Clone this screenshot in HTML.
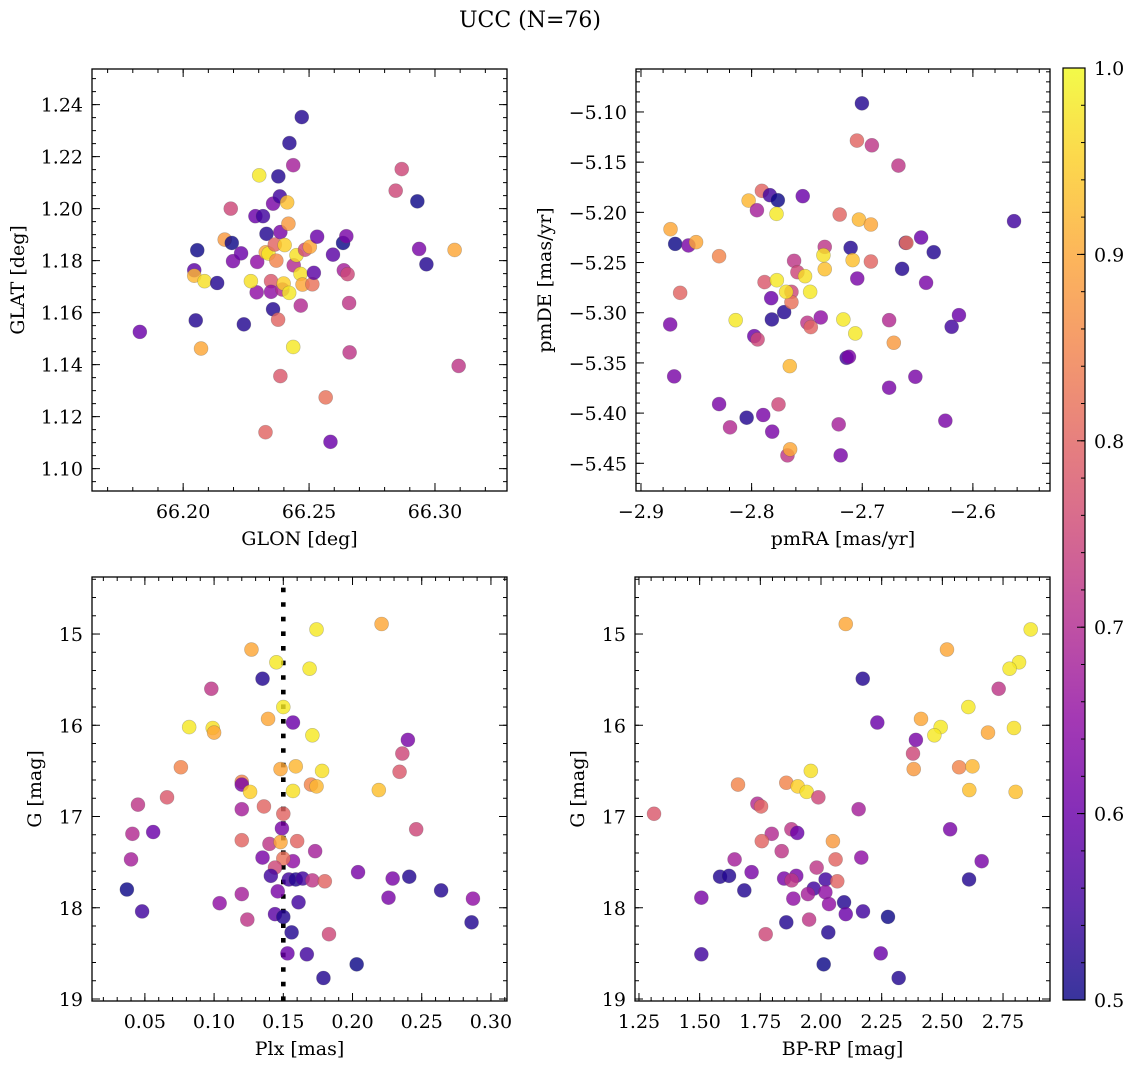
<!DOCTYPE html>
<html><head><meta charset="utf-8"><style>
body{margin:0;background:#fff;}
svg text{font-family:"DejaVu Serif","Liberation Serif",serif;fill:#000;}
</style></head><body>
<svg id="fig" width="1135" height="1068" viewBox="0 0 1135 1068" xmlns="http://www.w3.org/2000/svg">
<defs>
<linearGradient id="plasmaGrad" x1="0" y1="1" x2="0" y2="0">
<stop offset="0" stop-color="#0d0887"/><stop offset="0.1" stop-color="#41049d"/><stop offset="0.2" stop-color="#6a00a8"/><stop offset="0.3" stop-color="#8f0da4"/><stop offset="0.4" stop-color="#b12a90"/><stop offset="0.5" stop-color="#cc4778"/><stop offset="0.6" stop-color="#e16462"/><stop offset="0.7" stop-color="#f2844b"/><stop offset="0.8" stop-color="#fca636"/><stop offset="0.9" stop-color="#fcce25"/><stop offset="1" stop-color="#f0f921"/>
</linearGradient>
</defs>
<text x="530" y="27" font-size="22" text-anchor="middle">UCC (N=76)</text>
</svg>
<script>
// ---- Panel 1: GLON vs GLAT ----
const p1Glon=[66.1828,66.2056,66.2044,66.2044,66.2050,66.2085,66.2071,66.2135,66.2165,66.2193,66.2189,66.2198,66.2230,66.2241,66.2287,66.2317,66.2294,66.2292,66.2269,66.2302,66.2331,66.2328,66.2339,66.2357,66.2349,66.2349,66.2357,66.2327,66.2364,66.2370,66.2377,66.2386,66.2378,66.2384,66.2386,66.2394,66.2399,66.2403,66.2413,66.2418,66.2422,66.2421,66.2437,66.2439,66.2437,66.2450,66.2466,66.2467,66.2471,66.2474,66.2484,66.2503,66.2513,66.2519,66.2532,66.2566,66.2585,66.2595,66.2635,66.2648,66.2638,66.2653,66.2659,66.2661,66.2844,66.2868,66.2930,66.2937,66.2966,66.3078,66.3094];
const p1Glat=[1.1526,1.1840,1.1763,1.1742,1.1570,1.1721,1.1462,1.1714,1.1881,1.1868,1.2000,1.1798,1.1828,1.1555,1.1971,1.1971,1.1795,1.1678,1.1721,1.2128,1.1903,1.1832,1.1827,1.2019,1.1721,1.1680,1.1613,1.1140,1.1862,1.1800,1.1573,1.1356,1.2124,1.2047,1.1910,1.1689,1.1712,1.1860,1.2024,1.1942,1.2252,1.1676,1.2167,1.1782,1.1468,1.1821,1.1749,1.1627,1.2352,1.1708,1.1842,1.1853,1.1709,1.1753,1.1892,1.1274,1.1103,1.1823,1.1868,1.1894,1.1763,1.1748,1.1637,1.1447,1.2069,1.2152,1.2028,1.1845,1.1786,1.1841,1.1395];
const p1Prob=[0.6,0.5,0.58,0.92,0.52,0.97,0.9,0.52,0.88,0.5,0.75,0.62,0.6,0.52,0.6,0.55,0.65,0.65,0.97,0.98,0.52,0.9,0.98,0.62,0.78,0.65,0.52,0.8,0.8,0.85,0.8,0.78,0.52,0.55,0.62,0.7,0.95,0.95,0.93,0.88,0.52,0.98,0.68,0.7,0.98,0.97,0.97,0.7,0.52,0.9,0.75,0.9,0.82,0.58,0.6,0.82,0.6,0.58,0.5,0.62,0.68,0.75,0.72,0.72,0.75,0.75,0.5,0.62,0.52,0.9,0.72];
const p1XTicks=[66.20,66.25,66.30];
const p1XLabels=["66.20","66.25","66.30"];
const p1YTicks=[1.10,1.12,1.14,1.16,1.18,1.20,1.22,1.24];
const p1YLabels=["1.10","1.12","1.14","1.16","1.18","1.20","1.22","1.24"];

// ---- Panel 2: pmRA vs pmDE ----
const p2PmRA=[-2.7003,-2.7048,-2.6913,-2.6673,-2.5628,-2.8733,-2.8691,-2.8571,-2.8502,-2.8294,-2.8646,-2.8736,-2.8700,-2.8027,-2.7952,-2.7907,-2.7835,-2.7763,-2.7775,-2.7538,-2.7883,-2.7823,-2.7772,-2.7817,-2.7706,-2.7976,-2.7946,-2.8144,-2.8294,-2.8195,-2.8045,-2.7895,-2.7814,-2.7757,-2.7676,-2.7652,-2.7655,-2.7640,-2.7640,-2.7688,-2.7616,-2.7586,-2.7517,-2.7496,-2.7465,-2.7471,-2.7375,-2.7339,-2.7351,-2.7339,-2.7204,-2.7213,-2.7195,-2.7171,-2.7141,-2.7120,-2.7105,-2.7087,-2.7063,-2.7045,-2.7030,-2.6922,-2.6922,-2.6757,-2.6757,-2.6715,-2.6640,-2.6607,-2.6601,-2.6468,-2.6354,-2.6423,-2.6520,-2.6192,-2.6126,-2.6249];
const p2PmDE=[-5.0914,-5.1285,-5.1332,-5.1534,-5.2088,-5.2168,-5.2314,-5.2330,-5.2297,-5.2437,-5.2802,-5.3117,-5.3634,-5.1883,-5.1979,-5.1786,-5.1829,-5.1879,-5.2015,-5.1839,-5.2695,-5.2855,-5.2676,-5.3067,-5.2994,-5.3233,-5.3266,-5.3074,-5.3910,-5.4142,-5.4046,-5.4019,-5.4185,-5.3913,-5.4421,-5.4361,-5.3532,-5.2792,-5.2895,-5.2792,-5.2483,-5.2596,-5.2636,-5.3100,-5.3143,-5.2792,-5.3047,-5.2344,-5.2427,-5.2566,-5.2022,-5.4112,-5.4421,-5.3067,-5.3449,-5.3439,-5.2354,-5.2476,-5.3206,-5.2659,-5.2072,-5.2121,-5.2490,-5.3074,-5.3747,-5.3299,-5.2563,-5.2304,-5.2304,-5.2251,-5.2397,-5.2702,-5.3638,-5.3140,-5.3024,-5.4076];
const p2Prob=[0.52,0.8,0.72,0.72,0.55,0.9,0.5,0.62,0.9,0.85,0.8,0.62,0.62,0.92,0.68,0.8,0.55,0.5,0.98,0.6,0.78,0.6,0.98,0.52,0.52,0.6,0.75,0.98,0.62,0.7,0.52,0.62,0.62,0.75,0.72,0.9,0.92,0.75,0.82,0.97,0.72,0.75,0.97,0.72,0.8,0.98,0.65,0.72,0.97,0.93,0.8,0.68,0.62,0.98,0.55,0.62,0.52,0.93,0.98,0.62,0.92,0.9,0.8,0.7,0.62,0.88,0.52,0.55,0.82,0.6,0.52,0.62,0.62,0.55,0.6,0.62];
const p2XTicks=[-2.9,-2.8,-2.7,-2.6];
const p2XLabels=["\u22122.9","\u22122.8","\u22122.7","\u22122.6"];
const p2YTicks=[-5.45,-5.40,-5.35,-5.30,-5.25,-5.20,-5.15,-5.10];
const p2YLabels=["\u22125.45","\u22125.40","\u22125.35","\u22125.30","\u22125.25","\u22125.20","\u22125.15","\u22125.10"];

// ---- Panel 3: Plx vs G ----
const p3Plx=[0.221,0.174,0.127,0.145,0.169,0.135,0.098,0.150,0.139,0.157,0.082,0.099,0.100,0.171,0.240,0.236,0.076,0.148,0.159,0.178,0.234,0.120,0.120,0.126,0.157,0.170,0.174,0.219,0.045,0.066,0.120,0.136,0.150,0.149,0.246,0.041,0.056,0.120,0.140,0.148,0.160,0.173,0.040,0.135,0.157,0.150,0.144,0.141,0.154,0.159,0.164,0.171,0.180,0.204,0.229,0.241,0.037,0.048,0.104,0.120,0.146,0.226,0.264,0.287,0.124,0.144,0.150,0.161,0.156,0.183,0.286,0.153,0.167,0.203,0.179];
const p3G=[14.89,14.95,15.17,15.31,15.38,15.49,15.60,15.80,15.93,15.97,16.02,16.03,16.08,16.11,16.16,16.31,16.46,16.48,16.45,16.50,16.51,16.62,16.65,16.73,16.72,16.65,16.67,16.71,16.87,16.79,16.92,16.89,16.97,17.13,17.14,17.19,17.17,17.26,17.30,17.28,17.27,17.38,17.47,17.45,17.49,17.46,17.56,17.65,17.69,17.69,17.68,17.70,17.71,17.61,17.68,17.66,17.80,18.04,17.95,17.85,17.82,17.89,17.81,17.90,18.13,18.07,18.10,17.94,18.27,18.29,18.16,18.50,18.51,18.62,18.77];
const p3Prob=[0.9,0.98,0.9,0.98,0.98,0.52,0.72,0.98,0.9,0.6,0.98,0.97,0.9,0.98,0.62,0.75,0.85,0.9,0.92,0.97,0.78,0.85,0.62,0.95,0.97,0.85,0.92,0.93,0.72,0.78,0.68,0.8,0.8,0.62,0.75,0.7,0.6,0.8,0.72,0.9,0.8,0.68,0.68,0.62,0.65,0.82,0.75,0.55,0.55,0.52,0.55,0.72,0.8,0.62,0.62,0.52,0.5,0.55,0.65,0.68,0.62,0.62,0.52,0.65,0.72,0.58,0.52,0.55,0.52,0.75,0.52,0.6,0.55,0.5,0.52];
const p3XTicks=[0.05,0.10,0.15,0.20,0.25,0.30];
const p3XLabels=["0.05","0.10","0.15","0.20","0.25","0.30"];
const plxCut=[0.15];

// ---- Panel 4: BP-RP vs G ----
const p4BpRp=[1.312,2.102,2.864,2.519,2.816,2.777,2.172,2.732,2.607,2.412,2.232,2.493,2.467,2.795,2.688,2.391,2.379,2.382,2.569,2.624,1.958,1.658,1.857,1.904,1.941,2.611,2.802,1.989,1.738,1.753,2.155,2.532,1.797,1.878,1.902,1.756,2.049,1.838,2.166,2.060,2.662,1.644,1.982,1.584,1.621,1.714,1.848,1.898,1.879,2.019,2.067,2.610,1.684,1.970,1.946,2.018,1.507,1.886,2.033,2.095,2.102,2.173,2.276,1.857,1.951,1.772,2.030,1.507,2.246,2.011,2.320];
const p4G=[16.97,14.89,14.95,15.17,15.31,15.38,15.49,15.60,15.80,15.93,15.97,16.02,16.11,16.03,16.08,16.16,16.31,16.48,16.46,16.45,16.50,16.65,16.63,16.67,16.73,16.71,16.73,16.79,16.86,16.89,16.92,17.14,17.19,17.14,17.18,17.27,17.27,17.38,17.45,17.47,17.49,17.47,17.56,17.66,17.65,17.61,17.68,17.65,17.70,17.69,17.71,17.69,17.81,17.79,17.85,17.83,17.89,17.90,17.96,17.94,18.07,18.04,18.10,18.16,18.13,18.29,18.27,18.51,18.50,18.62,18.77];
const p4Prob=[0.78,0.9,0.98,0.9,0.98,0.98,0.52,0.72,0.98,0.9,0.6,0.98,0.98,0.97,0.9,0.62,0.75,0.88,0.85,0.92,0.97,0.85,0.85,0.95,0.97,0.93,0.93,0.75,0.7,0.8,0.68,0.62,0.7,0.72,0.6,0.8,0.88,0.72,0.65,0.8,0.62,0.68,0.72,0.52,0.52,0.62,0.62,0.62,0.72,0.55,0.8,0.52,0.52,0.55,0.68,0.65,0.62,0.65,0.65,0.52,0.6,0.55,0.5,0.52,0.72,0.75,0.52,0.55,0.6,0.5,0.52];
const p4XTicks=[1.25,1.50,1.75,2.00,2.25,2.50,2.75];
const p4XLabels=["1.25","1.50","1.75","2.00","2.25","2.50","2.75"];

const gYTicks=[15,16,17,18,19];
const gYLabels=["15","16","17","18","19"];
const cbTicks=[0.5,0.6,0.7,0.8,0.9,1.0];
const cbLabels=["0.5","0.6","0.7","0.8","0.9","1.0"];

const NS="http://www.w3.org/2000/svg";
const svg=document.getElementById('fig');
const FS=19;
const plasma=["#0d0887","#41049d","#6a00a8","#8f0da4","#b12a90","#cc4778","#e16462","#f2844b","#fca636","#fcce25","#f0f921"];
function hex(h){return [parseInt(h.substr(1,2),16),parseInt(h.substr(3,2),16),parseInt(h.substr(5,2),16)];}
function cmap(p){let t=Math.max(0,Math.min(1,(p-0.5)/0.5))*10;let i=Math.min(9,Math.floor(t));let f=t-i;const a=hex(plasma[i]),b=hex(plasma[i+1]);return 'rgb('+a.map((v,k)=>Math.round(v+(b[k]-v)*f)).join(',')+')';}
function mk(tag,attrs,parent){const e=document.createElementNS(NS,tag);for(const k in attrs)e.setAttribute(k,attrs[k]);(parent||svg).appendChild(e);return e;}

function panel(o){
  const g=mk('g',{});
  
  
  const sx=v=>o.x0+(v-o.xd[0])/(o.xd[1]-o.xd[0])*(o.x1-o.x0);
  const sy=o.yInv?(v=>o.y0+(v-o.yd[0])/(o.yd[1]-o.yd[0])*(o.y1-o.y0)):(v=>o.y1-(v-o.yd[0])/(o.yd[1]-o.yd[0])*(o.y1-o.y0));
  const tg=mk('g',{stroke:'#000','stroke-width':1},g);
  
  
  const eps=1e-9;
  for(let v=Math.ceil(o.xd[0]/o.xMinor)*o.xMinor;v<=o.xd[1]+eps;v+=o.xMinor){const X=sx(v);mk('line',{x1:X,x2:X,y1:o.y1,y2:o.y1-4},tg);mk('line',{x1:X,x2:X,y1:o.y0,y2:o.y0+4},tg);}
  for(let v=Math.ceil(Math.min(...o.yd)/o.yMinor)*o.yMinor;v<=Math.max(...o.yd)+eps;v+=o.yMinor){const Y=sy(v);mk('line',{x1:o.x0,x2:o.x0+4,y1:Y,y2:Y},tg);mk('line',{x1:o.x1,x2:o.x1-4,y1:Y,y2:Y},tg);}
  o.xTicks.forEach((v,i)=>{const X=sx(v);mk('line',{x1:X,x2:X,y1:o.y1,y2:o.y1-8},tg);mk('line',{x1:X,x2:X,y1:o.y0,y2:o.y0+8},tg);
    const t=mk('text',{x:X,y:o.y1+27,'font-size':FS,'text-anchor':'middle'},g);t.textContent=o.xLabels[i];
    
    });
  o.yTicks.forEach((v,i)=>{const Y=sy(v);mk('line',{x1:o.x0,x2:o.x0+8,y1:Y,y2:Y},tg);mk('line',{x1:o.x1,x2:o.x1-8,y1:Y,y2:Y},tg);
    const t=mk('text',{x:o.x0-9,y:Y+7,'font-size':FS,'text-anchor':'end'},g);t.textContent=o.yLabels[i];
    
    });
  if(o.vline){o.vline.forEach(v=>{const l=mk('line',{x1:sx(v),x2:sx(v),y1:o.y1,y2:o.y0+2,stroke:'#000','stroke-width':4.6,'stroke-dasharray':'4.6 10'},g);
    
    });}
  const pg=mk('g',{},g);
  
  
  o.xs.forEach((xv,i)=>{const c=mk('circle',{cx:sx(xv),cy:sy(o.ys[i]),r:7,fill:cmap(o.ps[i]),'fill-opacity':0.82,stroke:'rgba(80,80,80,0.35)','stroke-width':0.6},pg);
    
    });
  const fr=mk('rect',{x:o.x0,y:o.y0,width:o.x1-o.x0,height:o.y1-o.y0,fill:'none',stroke:'#000','stroke-width':1.3},g);
  
  
  const xl=mk('text',{x:(o.x0+o.x1)/2,y:o.y1+54,'font-size':FS,'text-anchor':'middle'},g);xl.textContent=o.xTitle;
  
  
  const yl=mk('text',{x:0,y:0,'font-size':FS,'text-anchor':'middle',transform:'translate('+o.yTitleX+','+((o.y0+o.y1)/2)+') rotate(-90)'},g);yl.textContent=o.yTitle;
  
  
}

panel({name:'glon-glat-panel',x0:92,x1:507,y0:69,y1:491,xd:[66.1638,66.3286],yd:[1.0914,1.2537],xTicks:p1XTicks,xLabels:p1XLabels,yTicks:p1YTicks,yLabels:p1YLabels,xMinor:0.01,yMinor:0.005,xs:p1Glon,ys:p1Glat,ps:p1Prob,xTitle:'GLON [deg]',yTitle:'GLAT [deg]',yTitleX:24});
panel({name:'pm-panel',x0:636,x1:1050,y0:69,y1:491,xd:[-2.9045,-2.5303],yd:[-5.4776,-5.0572],xTicks:p2XTicks,xLabels:p2XLabels,yTicks:p2YTicks,yLabels:p2YLabels,xMinor:0.02,yMinor:0.01,xs:p2PmRA,ys:p2PmDE,ps:p2Prob,xTitle:'pmRA [mas/yr]',yTitle:'pmDE [mas/yr]',yTitleX:551});
panel({name:'plx-g-panel',x0:92,x1:507,y0:577,y1:1001,xd:[0.0118,0.3116],yd:[14.375,19.022],yInv:true,xTicks:p3XTicks,xLabels:p3XLabels,yTicks:gYTicks,yLabels:gYLabels,xMinor:0.01,yMinor:0.2,xs:p3Plx,ys:p3G,ps:p3Prob,xTitle:'Plx [mas]',yTitle:'G [mag]',yTitleX:41,vline:plxCut});
panel({name:'cmd-panel',x0:635,x1:1050,y0:577,y1:1001,xd:[1.2336,2.9435],yd:[14.375,19.022],yInv:true,xTicks:p4XTicks,xLabels:p4XLabels,yTicks:gYTicks,yLabels:gYLabels,xMinor:0.05,yMinor:0.2,xs:p4BpRp,ys:p4G,ps:p4Prob,xTitle:'BP-RP [mag]',yTitle:'G [mag]',yTitleX:584});

// colorbar
const cb=mk('g',{});


const cbx0=1063,cbx1=1085,cby0=68,cby1=1000;
mk('rect',{x:cbx0,y:cby0,width:cbx1-cbx0,height:cby1-cby0,fill:'url(#plasmaGrad)','fill-opacity':0.82},cb);
mk('rect',{x:cbx0,y:cby0,width:cbx1-cbx0,height:cby1-cby0,fill:'none',stroke:'#000','stroke-width':1.2},cb);
const cy=v=>cby1-(v-0.5)/0.5*(cby1-cby0);
for(let v=0.5;v<=1.0001;v+=0.02){mk('line',{x1:cbx1,x2:cbx1-4,y1:cy(v),y2:cy(v),stroke:'#000','stroke-width':1},cb);}
cbTicks.forEach((v,i)=>{mk('line',{x1:cbx1,x2:cbx1-8,y1:cy(v),y2:cy(v),stroke:'#000','stroke-width':1},cb);
  const t=mk('text',{x:cbx1+9,y:cy(v)+7,'font-size':FS},cb);t.textContent=cbLabels[i];
  
  });
</script>
</body></html>
